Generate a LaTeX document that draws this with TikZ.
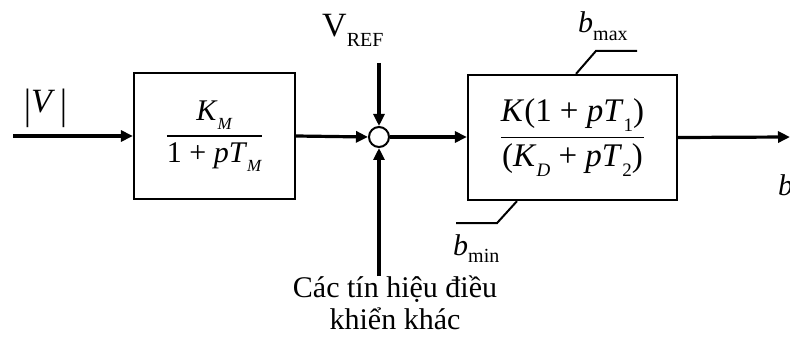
\documentclass[tikz,border=0pt]{standalone}
\usepackage{amsmath}
\usepackage{fontspec}
\setmainfont{Liberation Serif}
\usepackage{tikz}
\usetikzlibrary{arrows.meta}

\newcommand{\lowsub}[2][17]{\raisebox{-0.3em}{\fontsize{#1}{#1}\selectfont #2}}
\newcommand{\limsub}[1]{\raisebox{-0.25em}{\fontsize{20}{20}\selectfont #1}}
\newcommand{\blkfrac}[2]{$\genfrac{}{}{1.8pt}{0}{\text{#1}}{\text{#2}}$}
\newcommand{\absbar}{\raisebox{-6pt}{\scalebox{1}[1.25]{|}}}

\begin{document}
\begin{tikzpicture}[
  x=1pt, y=-1pt,
  font=\fontsize{30}{32}\selectfont,
  block/.style={draw, line width=2.2pt, inner sep=0pt},
  summer/.style={draw, circle, line width=2pt, minimum size=20pt, inner sep=0pt},
  sig/.style={-{Triangle[length=12pt,width=11pt]}, line width=3.2pt},
  limit/.style={line width=2pt},
  lbl/.style={inner sep=0pt}
]
\useasboundingbox (0,0) rectangle (790,342);

% blocks
\node[block, minimum width=161pt, minimum height=126pt] (lead) at (214.5,136)
  {\blkfrac{\textit{K}\lowsub{\textit{M}}}{1 + \textit{pT}\lowsub{\textit{M}}}};
\node[summer] (sum) at (379,137) {};
\node[block, minimum width=209pt, minimum height=125pt] (ctrl) at (572.5,137.5)
  {\fontsize{33}{35}\selectfont\raisebox{-4pt}{\blkfrac{\textit{K}(1 + \textit{pT}\lowsub[19]{1})}{(\textit{K}\lowsub[19]{\textit{D}} + \textit{pT}\lowsub[19]{2})}}};

% labels
\node[lbl, anchor=base] (vin) at (46,113) {\fontsize{34}{34}\selectfont\absbar\textit{V}\,\absbar};
\node[lbl, anchor=base west] (vref) at (322,37)
  {\fontsize{34}{34}\selectfont V\raisebox{-10pt}{\fontsize{20}{20}\selectfont REF}};
\node[lbl, anchor=base west] (bmax) at (578,33) {\textit{b}\limsub{max}};
\node[lbl, anchor=base west] (bmin) at (453,255) {\textit{b}\limsub{min}};
\node[lbl, anchor=base west] (bout) at (778,195) {\textit{b}};
\node[lbl, anchor=north, align=center] (other) at (395,276)
  {Các tín hiệu điều\\khiển khác};

\coordinate (in) at (13,136);
\coordinate (out) at (790,137);
\coordinate (reftop) at (379,63);

% signals
\draw[sig] (in) -- (lead.west);
\draw[sig] (lead.east) -- (sum.west);
\draw[sig] (reftop) -- (sum.north);
\draw[sig] (other.north -| sum) -- (sum.south);
\draw[sig] (sum.east) -- (ctrl.west |- sum.east);
\draw[sig] (ctrl.east) -- (out);

% limits
\draw[limit] (ctrl.north) ++(3.5,0) -- ++(20,-23) -- ++(41,0);
\draw[limit] (ctrl.south) ++(-55.5,0) -- ++(-20,22) -- ++(-41,0);
\end{tikzpicture}
\end{document}
